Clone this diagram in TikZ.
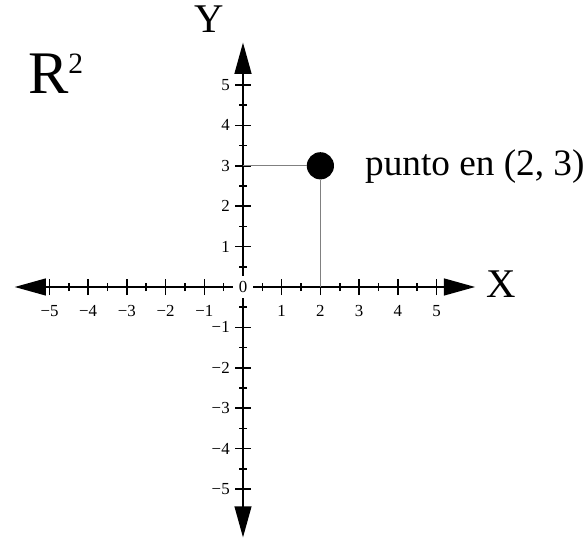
\documentclass[tikz,border=0pt]{standalone}
\usepackage{fontspec}
\setmainfont{Liberation Serif}
\usetikzlibrary{arrows.meta}
\begin{document}
\begin{tikzpicture}[x=0.9675cm, y=1.01cm,
        axis/.style={line width=1.3pt, {Triangle[length=7.8mm,width=4.2mm]}-{Triangle[length=7.8mm,width=4.2mm]}},
        tick/.style={line width=1.1pt},
        guide/.style={gray, line width=0.7pt},
        ticklbl/.style={font=\fontsize{12}{12}\selectfont, inner sep=1pt}]
        \useasboundingbox (-6.279,-6.213) rectangle (8.915,7.104);

        \coordinate (xl) at (-5.9,0);
        \coordinate (xr) at (6,0);
        \coordinate (yb) at (0,-6.2);
        \coordinate (yt) at (0,6.05);
        \draw[axis] (xl) -- (xr);
        \draw[axis] (yb) -- (yt);

        \foreach \i in {-5,...,-1,1,2,...,5} {
            \draw[tick] (\i,-0.2) -- (\i,0.2);
            \draw[tick] (-0.2,\i) -- (0.2,\i);
        }
        \foreach \i in {-4.5,-3.5,...,4.5} {
            \draw[tick] (\i,-0.1) -- (\i,0.1);
            \draw[tick] (-0.1,\i) -- (0.1,\i);
        }

        \foreach \i in {1,...,5} {
            \node[ticklbl] (xp\i) at (\i,-0.6) {\i};
            \node[ticklbl] (xn\i) at (-\i,-0.6) {−\i};
            \node[ticklbl, anchor=east] (yp\i) at (-0.3,\i) {\i};
            \node[ticklbl, anchor=east] (yn\i) at (-0.3,-\i) {−\i};
        }
        \node[ticklbl, fill=white, inner sep=4pt] (orig) at (0,0) {0};

        % point (2,3)
        \coordinate (px) at (2,0);
        \coordinate (py) at (0,3);
        \node[circle, fill=black, minimum size=0.68cm, inner sep=0pt] (pt) at (2,3) {};
        \draw[guide] (pt) -- (px);
        \draw[guide] (pt) -- (py);
        \node[anchor=base west, font=\fontsize{26.5}{26.5}\selectfont, inner sep=0pt] (ptlbl) at (3.15,2.75) {punto en (2, 3)};

        \node[anchor=base, font=\fontsize{29}{29}\selectfont, inner sep=0pt] (ylbl) at (-0.88,6.29) {Y};
        \node[anchor=base, font=\fontsize{29}{29}\selectfont, inner sep=0pt] (xlbl) at (6.67,-0.27) {X};
        \node[anchor=base west, font=\fontsize{43}{43}\selectfont, inner sep=0pt] (rtwo) at (-5.56,4.8) {R\raisebox{14pt}{\fontsize{21}{21}\selectfont 2}};
    \end{tikzpicture}
\end{document}
